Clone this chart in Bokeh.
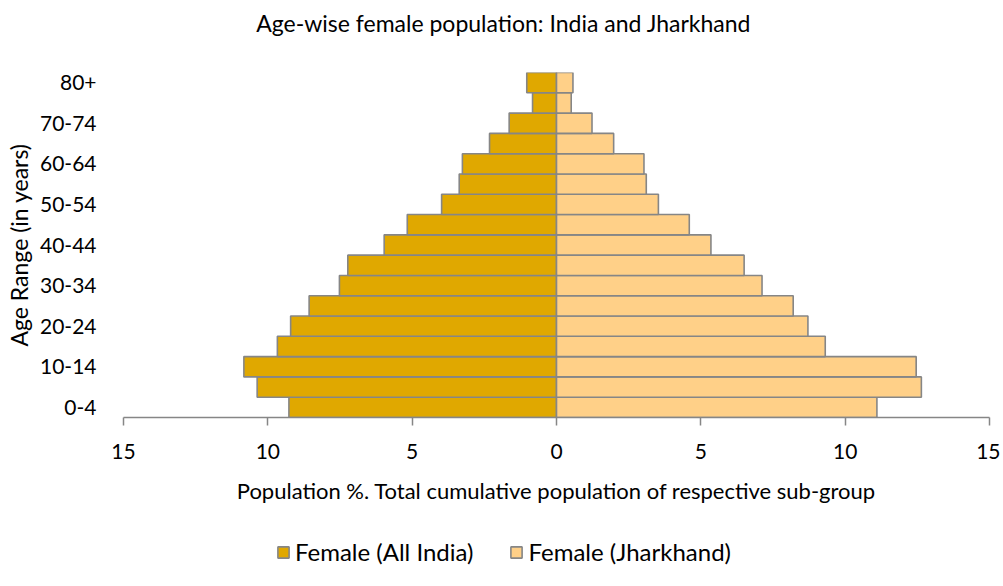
from bokeh.plotting import figure
from bokeh.layouts import column
from bokeh.models import Range1d, FixedTicker, Legend, LegendItem, ColumnDataSource, Label
from bokeh.embed import file_html
from bokeh.resources import INLINE

ages = ["0-4", "5-9", "10-14", "15-19", "20-24", "25-29", "30-34", "35-39", "40-44",
        "45-49", "50-54", "55-59", "60-64", "65-69", "70-74", "75-79", "80+"]
india = [9.27, 10.37, 10.83, 9.67, 9.21, 8.57, 7.52, 7.23, 5.97,
         5.17, 3.98, 3.37, 3.26, 2.32, 1.64, 0.83, 1.03]
jharkhand = [11.10, 12.64, 12.46, 9.31, 8.71, 8.20, 7.12, 6.50, 5.35,
             4.60, 3.53, 3.11, 3.03, 1.98, 1.23, 0.51, 0.57]
shown_labels = ["0-4", "10-14", "20-24", "30-34", "40-44", "50-54", "60-64", "70-74", "80+"]
x_ticks = [-15, -10, -5, 0, 5, 10, 15]
series_names = ["Female (All India)", "Female (Jharkhand)"]
title_text = "Age-wise female population: India and Jharkhand"

FONT = "Lato"
C_INDIA = "#E0A800"
C_JHAR = "#FFD088"
EDGE = "#868686"

pos = list(range(len(ages)))
src = ColumnDataSource(dict(pos=pos, india_neg=[-v for v in india], jhar=jharkhand,
                            zero=[0] * len(ages)))

W = 1000

# title strip
tp = figure(width=W, height=60, output_backend="svg", toolbar_location=None,
            x_axis_location=None, y_axis_location=None,
            x_range=Range1d(0, 1), y_range=Range1d(0, 1),
            min_border=0, outline_line_color=None)
tp.grid.visible = False
tp.add_layout(Label(x=0.439, y=0.63, text=title_text, text_align="center",
                    text_baseline="middle", text_font=FONT, text_font_size="23px",
                    text_color="#000000"))

# main chart
p = figure(width=W, height=462, output_backend="svg", toolbar_location=None,
           y_range=Range1d(-0.5, len(ages) - 0.5),
           x_range=Range1d(-15, 15),
           min_border_left=123, min_border_right=11, min_border_top=12, min_border_bottom=105)

r1 = p.hbar(y="pos", left="india_neg", right="zero", height=1.0, source=src,
            fill_color=C_INDIA, line_color=EDGE, line_width=1.6)
r2 = p.hbar(y="pos", left="zero", right="jhar", height=1.0, source=src,
            fill_color=C_JHAR, line_color=EDGE, line_width=1.6)

p.outline_line_color = None
p.xgrid.grid_line_color = None
p.ygrid.grid_line_color = None

xa = p.xaxis[0]
xa.ticker = FixedTicker(ticks=x_ticks)
xa.major_label_overrides = {t: str(abs(t)) for t in x_ticks}
xa.axis_line_color = EDGE
xa.axis_line_width = 1.5
xa.major_tick_line_color = EDGE
xa.major_tick_line_width = 1.5
xa.major_tick_in = 0
xa.major_tick_out = 8
xa.minor_tick_line_color = None
xa.major_label_text_font = FONT
xa.major_label_text_font_size = "21px"
xa.major_label_text_color = "#000000"
xa.major_label_standoff = 18
xa.axis_label = "Population %. Total cumulative population of respective sub-group"
xa.axis_label_text_font = FONT
xa.axis_label_text_font_style = "normal"
xa.axis_label_text_font_size = "22px"
xa.axis_label_text_color = "#000000"
xa.axis_label_standoff = 15

ya = p.yaxis[0]
ya.ticker = FixedTicker(ticks=[ages.index(a) for a in shown_labels])
ya.major_label_overrides = {i: a for i, a in enumerate(ages)}
ya.axis_line_color = None
ya.major_tick_line_color = None
ya.minor_tick_line_color = None
ya.major_label_text_font = FONT
ya.major_label_text_font_size = "21px"
ya.major_label_text_color = "#000000"
ya.major_label_standoff = 21
ya.axis_label = "Age Range (in years)"
ya.axis_label_text_font = FONT
ya.axis_label_text_font_style = "normal"
ya.axis_label_text_font_size = "23px"
ya.axis_label_text_color = "#000000"
ya.axis_label_standoff = 4

# legend strip below the chart (hidden copies of the bars supply the swatches)
lg = figure(width=W, height=62, output_backend="svg", toolbar_location=None,
            x_axis_location=None, y_axis_location=None,
            x_range=Range1d(-15, 15), y_range=Range1d(40, 41),
            min_border=0, outline_line_color=None)
lg.grid.visible = False
d1 = lg.hbar(y="pos", left="india_neg", right="zero", height=1.0, source=src,
             fill_color=C_INDIA, line_color=EDGE, line_width=1.6, visible=False)
d2 = lg.hbar(y="pos", left="zero", right="jhar", height=1.0, source=src,
             fill_color=C_JHAR, line_color=EDGE, line_width=1.6, visible=False)
legend = Legend(items=[LegendItem(label=series_names[0], renderers=[d1]),
                       LegendItem(label=series_names[1], renderers=[d2])],
                orientation="horizontal", location=(153, 18),
                label_text_font=FONT, label_text_font_size="24px",
                label_text_color="#000000",
                glyph_width=14, glyph_height=14, spacing=36,
                border_line_color=None, background_fill_alpha=0,
                margin=0, padding=4, label_standoff=5)
lg.add_layout(legend)

layout = column(tp, p, lg, spacing=0)
open("out.html", "w").write(file_html(layout, INLINE))
